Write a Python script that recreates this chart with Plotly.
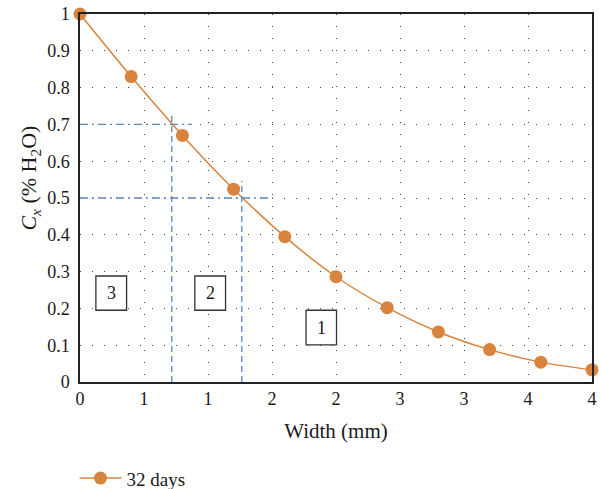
import plotly.graph_objects as go

width_mm = [0.0, 0.4, 0.8, 1.2, 1.6, 2.0, 2.4, 2.8, 3.2, 3.6, 4.0]
cx_32days = [1.0, 0.830, 0.670, 0.524, 0.395, 0.286, 0.202, 0.136, 0.088, 0.054, 0.033]
series_name = "32 days"

x_tickvals = [0, 0.5, 1.0, 1.5, 2.0, 2.5, 3.0, 3.5, 4.0]
x_ticktext = ["0", "1", "1", "2", "2", "3", "3", "4", "4"]
y_tickvals = [0, 0.1, 0.2, 0.3, 0.4, 0.5, 0.6, 0.7, 0.8, 0.9, 1.0]
y_ticktext = ["0", "0.1", "0.2", "0.3", "0.4", "0.5", "0.6", "0.7", "0.8", "0.9", "1"]

zone_labels = ["3", "2", "1"]

ORANGE = "#d8843e"
BLUE = "#5b86c0"
FONT = "Liberation Serif"
TXT = "#1a1a1a"

fig = go.Figure()
fig.add_trace(go.Scatter(
    x=width_mm, y=cx_32days, name=series_name,
    mode="lines+markers",
    line=dict(color=ORANGE, width=1.5, shape="spline"),
    marker=dict(color=ORANGE, size=13),
    cliponaxis=False,
))

# guide lines
guides = [
    dict(x0=0, x1=0.874, y0=0.7, y1=0.7, dash="8px,4px,2px,4px"),
    dict(x0=0, x1=1.51, y0=0.5, y1=0.5, dash="8px,4px,2px,4px"),
    dict(x0=0.717, x1=0.717, y0=0, y1=0.731, dash="6px,4px"),
    dict(x0=1.264, x1=1.264, y0=0, y1=0.547, dash="6px,4px"),
]
for g in guides:
    fig.add_shape(type="line", xref="x", yref="y",
                  x0=g["x0"], x1=g["x1"], y0=g["y0"], y1=g["y1"],
                  line=dict(color=BLUE, width=1.3, dash=g["dash"]))

boxes = [
    (0.124, 0.364, 0.195, 0.288),
    (0.897, 1.137, 0.195, 0.288),
    (1.766, 2.004, 0.101, 0.195),
]
for lbl, (bx0, bx1, by0, by1) in zip(zone_labels, boxes):
    fig.add_shape(type="rect", xref="x", yref="y", x0=bx0, x1=bx1, y0=by0, y1=by1,
                  line=dict(color="#333333", width=1.3), fillcolor="white", layer="above")
    fig.add_annotation(x=(bx0 + bx1) / 2, y=(by0 + by1) / 2, text=lbl, showarrow=False,
                       font=dict(family=FONT, size=18, color=TXT))

# y-axis title
fig.add_annotation(xref="paper", yref="paper", x=-0.098, y=0.555, xanchor="center", yanchor="middle",
                   text="<i>C</i><sub><i>x</i></sub> (% H<sub>2</sub>O)", textangle=-90, showarrow=False,
                   font=dict(family=FONT, size=22, color=TXT))

fig.update_layout(
    width=601, height=489,
    margin=dict(l=80, r=4, t=13, b=107),
    plot_bgcolor="white", paper_bgcolor="white",
    font=dict(family=FONT, size=18, color=TXT),
    showlegend=True,
    legend=dict(orientation="h", x=0.124, xref="container", xanchor="left",
                y=0.022, yref="container", yanchor="middle",
                font=dict(family=FONT, size=19, color=TXT), itemwidth=42,
                bgcolor="rgba(0,0,0,0)"),
)
fig.update_xaxes(
    range=[0, 4], tickvals=x_tickvals, ticktext=x_ticktext,
    showline=True, linecolor="#222222", linewidth=1.5, mirror=True,
    showgrid=True, gridcolor="#444444", gridwidth=1, griddash="1.3px,10.7px",
    zeroline=False, ticks="", ticklen=0,
    title=dict(text="Width (mm)", font=dict(family=FONT, size=21), standoff=15),
)
fig.update_yaxes(
    range=[0, 1], tickvals=y_tickvals, ticktext=y_ticktext,
    showline=True, linecolor="#222222", linewidth=1.5, mirror=True,
    showgrid=True, gridcolor="#444444", gridwidth=1, griddash="1.3px,10.7px",
    zeroline=False, ticks="outside", ticklen=5, tickcolor="rgba(0,0,0,0)",
)

fig.write_html("out.html", config={"displayModeBar": False},
               post_script="document.body.style.margin='0px';")
